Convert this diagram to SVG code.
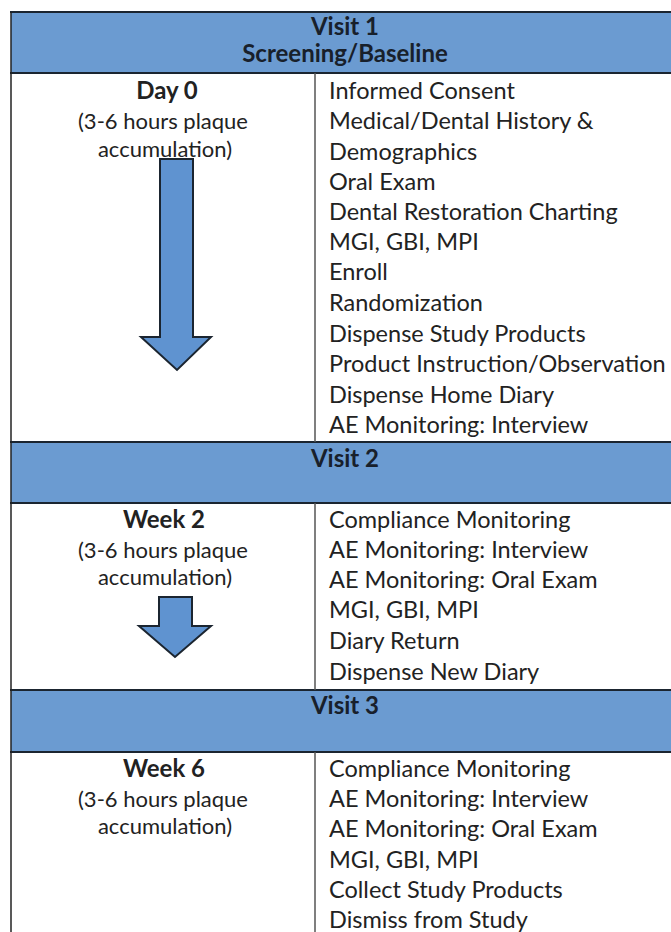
<svg xmlns="http://www.w3.org/2000/svg" width="671" height="932" viewBox="0 0 671 932">
<style>
.hdr{fill:#6b9bd1;stroke:none}
.hline{stroke:#1b2530;stroke-width:2.2}
.vline{stroke:#555;stroke-width:1.5}
.edge{stroke:#222;stroke-width:1.5}
.ht{font-family:"Lato","Open Sans",sans-serif;font-weight:bold;font-size:24px;fill:#18202b;text-anchor:middle}
.lt{font-family:"Lato","Open Sans",sans-serif;font-size:22px;fill:#222;text-anchor:middle}
.lb{font-family:"Lato","Open Sans",sans-serif;font-weight:bold;font-size:24px;fill:#222;text-anchor:middle}
.rt{font-family:"Lato","Open Sans",sans-serif;font-size:23.5px;fill:#222}
.arrow{fill:#5f93d0;stroke:#1b2530;stroke-width:2;stroke-linejoin:miter}
</style>
<rect x="0" y="0" width="671" height="932" fill="#fff"/>
<g id="visit1-header">
<rect class="hdr" x="11" y="12" width="670" height="61"/>
<text class="ht" x="345" y="35">Visit 1</text>
<text class="ht" x="345" y="62">Screening/Baseline</text>
</g>
<g id="visit2-header">
<rect class="hdr" x="11" y="442" width="670" height="61"/>
<text class="ht" x="345" y="467">Visit 2</text>
</g>
<g id="visit3-header">
<rect class="hdr" x="11" y="690" width="670" height="62"/>
<text class="ht" x="345" y="714">Visit 3</text>
</g>
<g id="grid">
<line class="hline" x1="10" y1="12" x2="671" y2="12"/>
<line class="hline" x1="10" y1="73" x2="671" y2="73"/>
<line class="hline" x1="10" y1="442" x2="671" y2="442"/>
<line class="hline" x1="10" y1="503" x2="671" y2="503"/>
<line class="hline" x1="10" y1="690" x2="671" y2="690"/>
<line class="hline" x1="10" y1="752" x2="671" y2="752"/>
<line class="edge" x1="11" y1="12" x2="11" y2="932"/>
<line class="vline" x1="315" y1="73" x2="315" y2="442"/>
<line class="vline" x1="315" y1="503" x2="315" y2="690"/>
<line class="vline" x1="315" y1="752" x2="315" y2="932"/>
</g>
<g id="connectors">
<path class="arrow" d="M160,159 L193,159 L193,337 L211,337 L177,370 L141,337 L160,337 Z"/>
<path class="arrow" d="M159,597 L192,597 L192,626 L211,626 L175,657 L139,626 L159,626 Z"/>
</g>
<g id="day0">
<text class="lb" x="167" y="99">Day 0</text>
<text class="lt" x="163" y="129">(3-6 hours plaque</text>
<text class="lt" x="165" y="157">accumulation)</text>
</g>
<g id="visit1-tasks">
<text class="rt" x="329" y="99">Informed Consent</text>
<text class="rt" x="329" y="129">Medical/Dental History &amp;</text>
<text class="rt" x="329" y="160">Demographics</text>
<text class="rt" x="329" y="190">Oral Exam</text>
<text class="rt" x="329" y="220">Dental Restoration Charting</text>
<text class="rt" x="329" y="250">MGI, GBI, MPI</text>
<text class="rt" x="329" y="280">Enroll</text>
<text class="rt" x="329" y="311">Randomization</text>
<text class="rt" x="329" y="342">Dispense Study Products</text>
<text class="rt" x="329" y="372">Product Instruction/Observation</text>
<text class="rt" x="329" y="403">Dispense Home Diary</text>
<text class="rt" x="329" y="433">AE Monitoring: Interview</text>
</g>
<g id="week2">
<text class="lb" x="164" y="528">Week 2</text>
<text class="lt" x="163" y="558">(3-6 hours plaque</text>
<text class="lt" x="165" y="585">accumulation)</text>
</g>
<g id="visit2-tasks">
<text class="rt" x="329" y="528">Compliance Monitoring</text>
<text class="rt" x="329" y="558">AE Monitoring: Interview</text>
<text class="rt" x="329" y="588">AE Monitoring: Oral Exam</text>
<text class="rt" x="329" y="618">MGI, GBI, MPI</text>
<text class="rt" x="329" y="649">Diary Return</text>
<text class="rt" x="329" y="680">Dispense New Diary</text>
</g>
<g id="week6">
<text class="lb" x="164" y="777">Week 6</text>
<text class="lt" x="163" y="807">(3-6 hours plaque</text>
<text class="lt" x="165" y="834">accumulation)</text>
</g>
<g id="visit3-tasks">
<text class="rt" x="329" y="777">Compliance Monitoring</text>
<text class="rt" x="329" y="807">AE Monitoring: Interview</text>
<text class="rt" x="329" y="837">AE Monitoring: Oral Exam</text>
<text class="rt" x="329" y="868">MGI, GBI, MPI</text>
<text class="rt" x="329" y="898">Collect Study Products</text>
<text class="rt" x="329" y="928">Dismiss from Study</text>
</g>
</svg>
